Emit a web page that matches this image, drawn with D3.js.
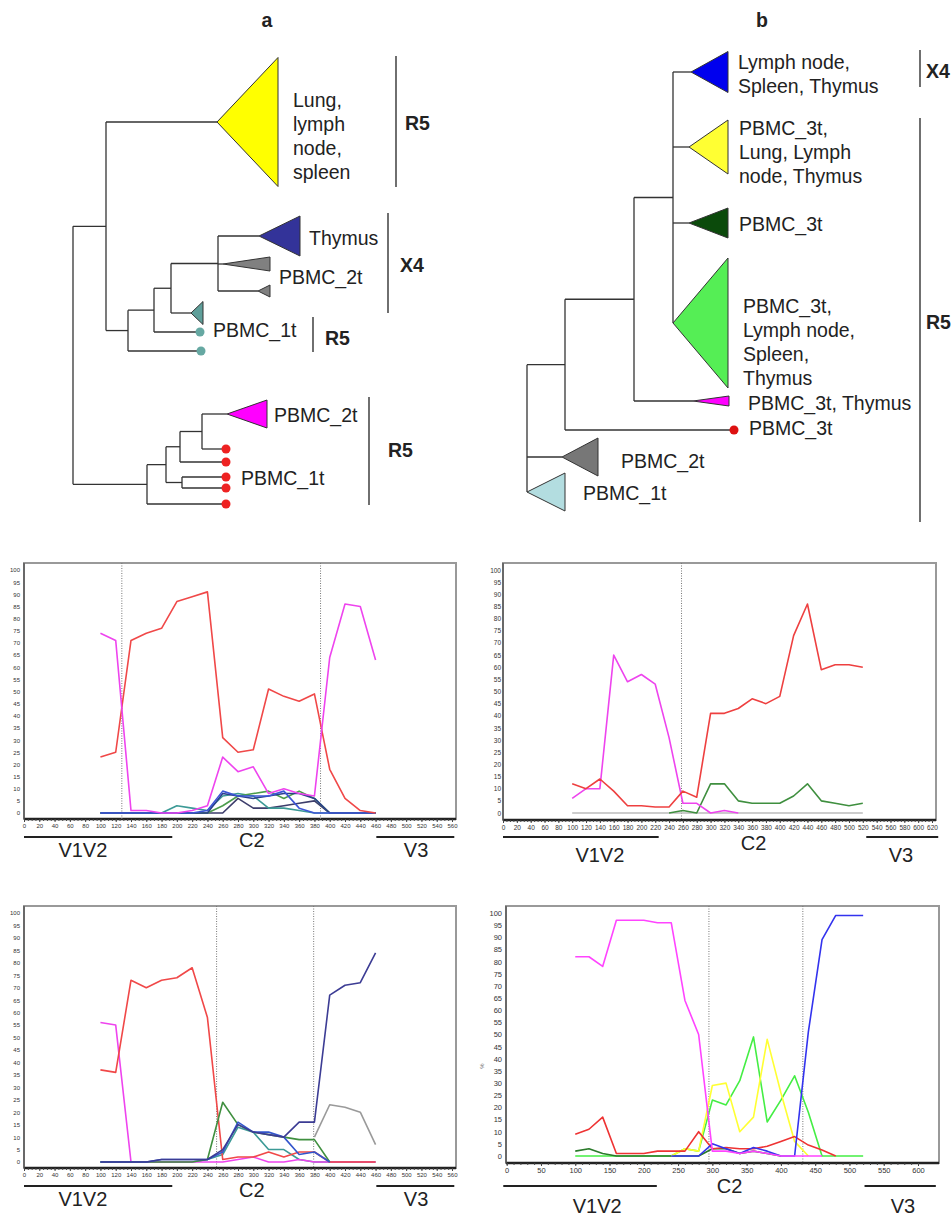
<!DOCTYPE html>
<html lang="en">
<head>
<meta charset="utf-8"/>
<title>Phylogenetic trees and recombination plots</title>
<script src="https://cdn.jsdelivr.net/npm/d3@7"></script>
<style>
body { margin: 0; background: #fff; }
text { font-family: Arial, "Liberation Sans", sans-serif; fill: #222; }
.branch { stroke: #333; stroke-width: 1.3; fill: none; }
.bracket { stroke: #333; stroke-width: 1.4; }
.clade { stroke: #333; stroke-width: 1; }
.treeLabel { font-size: 19.5px; }
.bold { font-weight: bold; }
.frame { fill: none; stroke: #999; stroke-width: 2; }
.baseAxis { stroke: #222; stroke-width: 2.4; }
.axis text { font-size: 6.5px; fill: #333; }
.axis path { display: none; }
.axis line { stroke: #444; }
.divider { stroke: #777; stroke-dasharray: 1, 1.5; stroke-width: 1; }
.series { fill: none; stroke-width: 1.6; stroke-linejoin: round; }
.regionBar { stroke: #222; stroke-width: 2.2; }
.regionText { font-size: 20px; text-anchor: middle; }
</style>
</head>
<body>
<div id="chart"></div>
<script>
// ---------- tree data: [node, parent, distance from root]
var treeA = [
   ["root", "", 0], ["U", "root", 33], ["L", "root", 74],
   ["yellow", "U", 144], ["M", "U", 55],
   ["N", "M", 81], ["tealDot2", "M", 128],
   ["P", "N", 98], ["tealDot1", "N", 127],
   ["Q", "P", 145], ["tealTri", "P", 118],
   ["navyTri", "Q", 186], ["greyTri1", "Q", 150], ["greyTri2", "Q", 185],
   ["L2", "L", 93], ["red5", "L", 153],
   ["L3", "L2", 107], ["L5", "L2", 109],
   ["L4", "L3", 129], ["red2", "L3", 153],
   ["magTri", "L4", 154], ["red1", "L4", 153],
   ["red3", "L5", 153], ["red4", "L5", 153]
];
// collapsed clades: [node, position, half height, depth]
var cladesA = [
   ["yellow", 122, 64.5, 61], ["navyTri", 236, 20, 41], ["greyTri1", 264, 7, 47],
   ["greyTri2", 291, 6, 12], ["tealTri", 313, 11.5, 12], ["magTri", 414, 14, 40]
];
// single sequences: [node, position]
var dotsA = [["tealDot1", 332], ["tealDot2", 351], ["red1", 449], ["red2", 462],
   ["red3", 477], ["red4", 488], ["red5", 504]];

var treeB = [
   ["root", "", 0], ["B", "root", 38], ["greyTri", "root", 35], ["lbTri", "root", 0],
   ["C", "B", 107], ["redDot", "B", 207],
   ["D", "C", 146], ["magTri", "C", 166],
   ["blueTri", "D", 164], ["yellowTri", "D", 162], ["dgTri", "D", 162], ["lgTri", "D", 146]
];
var cladesB = [
   ["blueTri", 72, 20.5, 37], ["yellowTri", 147, 27, 39], ["dgTri", 223, 15, 39],
   ["lgTri", 323, 65, 55], ["magTri", 401, 5, 36], ["greyTri", 457, 19, 36], ["lbTri", 492, 19, 38]
];
var dotsB = [["redDot", 430]];

var cladeColours = {
   yellow: "#ffff00", navyTri: "#333399", greyTri1: "#808080", greyTri2: "#808080",
   tealTri: "#5f9f9a", magTri: "#ff00ff", tealDot1: "#66a8a2", tealDot2: "#66a8a2",
   red1: "#ee2222", red2: "#ee2222", red3: "#ee2222", red4: "#ee2222", red5: "#ee2222",
   blueTri: "#0000ee", yellowTri: "#ffff33", dgTri: "#0b4a0b", lgTri: "#55ee55",
   greyTri: "#777777", lbTri: "#b3dde0", redDot: "#dd1111"
};

// ---------- recombination plots (window position, % support)
var posA = [100, 120, 140, 160, 180, 200, 220, 240, 260, 280, 300, 320, 340, 360, 380, 400, 420, 440, 460];
var posB = [100, 120, 140, 160, 180, 200, 220, 240, 260, 280, 300, 320, 340, 360, 380, 400, 420, 440, 460, 480, 500, 520];

var a1Slate   = [0, 0, 0, 0, 0, 0, 0, 0, 0, 6, 2, 2, 3, 4, 5, 0, 0, 0, 0];
var a1Teal    = [0, 0, 0, 0, 0, 3, 2, 1, 7, 8, 7, 2, 2, 1, 0, 0, 0, 0, 0];
var a1Green   = [0, 0, 0, 0, 0, 0, 0, 0, 3, 7, 8, 9, 6, 9, 6, 0, 0, 0, 0];
var a1Navy    = [0, 0, 0, 0, 0, 0, 0, 0, 8, 7, 6, 7, 8, 8, 6, 0, 0, 0, 0];
var a1Blue    = [0, 0, 0, 0, 0, 0, 0, 1, 9, 7, 7, 7, 9, 2, 0, 0, 0, 0, 0];
var a1Red     = [23, 25, 71, 74, 76, 87, 89, 91, 31, 25, 26, 51, 48, 46, 49, 18, 6, 1, 0];
var a1Magenta = [74, 71, 1, 1, 0, 0, 1, 3, 23, 17, 19, 8, 10, 8, 7, 64, 86, 85, 63];

var b1Grey    = [0, 0, 0, 0, 0, 0, 0, 0, 0, 0, 0, 0, 0, 0, 0, 0, 0, 0, 0, 0, 0, 0];
var b1Green   = [null, null, null, null, null, null, null, 0, 1, 0, 12, 12, 5, 4, 4, 4, 7, 12, 5, 4, 3, 4];
var b1Magenta = [6, 10, 10, 65, 54, 57, 53, 31, 4, 4, 0, 1, 0, null, null, null, null, null, null, null, null, null];
var b1Red     = [12, 10, 14, 9, 3, 3, 2.5, 2.5, 9, 6.5, 41, 41, 43, 47, 45, 48, 73, 86, 59, 61, 61, 60];

var a2Teal    = [0, 0, 0, 0, 0, 0, 0, 1, 3, 14, 12, 5, 5, 1, 0, 0, 0, 0, 0];
var a2Magenta = [56, 55, 0, 0, 0, 0, 0, 0, 0, 1, 2, 0, 0, 1, 0, 0, 0, 0, 0];
var a2Red     = [37, 36, 73, 70, 73, 74, 78, 58, 1, 2, 2, 4, 2, 4, 4, 0, 0, 0, 0];
var a2Grey    = [null, null, null, null, null, null, null, null, null, null, null, null, null, null, 10, 23, 22, 20, 7];
var a2Green   = [0, 0, 0, 0, 0, 0, 0, 1, 24, 15, 12, 11, 10, 9, 9, 0, null, null, null];
var a2Blue    = [0, 0, 0, 0, 1, 1, 1, 1, 4, 16, 12, 12, 10, 3, 4, 0, null, null, null];
var a2Navy    = [0, 0, 0, 0, 1, 1, 1, 1, 5, 15, 12, 11, 10, 16, 16, 67, 71, 72, 84];

var b2Green     = [0, 0, 0, 0, 0, 0, 0, 0, 3, 2, 23, 21, 31, 49, 14, 23, 33, 18, 0, 0, 0, 0];
var b2DarkGreen = [2, 3, 1, 0, 0, 0, 0, 0, 0, 0, 3, 3, 1, 2, 1, 0, null, null, null, null, null, null];
var b2Yellow    = [null, null, null, null, null, null, null, 0, 3, 2, 29, 30, 10, 16, 48, 26, 6, 0, null, null, null, null];
var b2Red       = [9, 11, 16, 1, 1, 1, 2, 2, 2, 10, 3, 3.5, 3, 3, 4, 6, 8, 4.5, 2.5, 0, null, null];
var b2Blue      = [null, null, null, null, null, null, null, 0, 0, 0, 5, 3, 1, 3.5, 2, 0, 0, 51, 89, 99, 99, 99];
var b2Magenta   = [82, 82, 78, 97, 97, 97, 96, 96, 64, 50, 2, 2, 1, 2, 1, 0, 0, 0, 0, null, null, null];

// breakpoints (dotted lines)
var breaksA1 = [128, 388];
var breaksB1 = [258];
var breaksA2 = [252, 379];
var breaksB2 = [295, 432];

// regions: [label, bar start, bar end, label centre]
var regionsA = [["V1V2", 0, 194, 77], ["C2", null, null, 298], ["V3", 461, 563, 513]];
var regionsB1 = [["V1V2", 0, 225, 140], ["C2", null, null, 362], ["V3", 525, 629, 575]];
var regionsB2 = [["V1V2", -5, 219, 132], ["C2", null, null, 325], ["V3", 522, 626, 578]];

var ticks20A = [0, 20, 40, 60, 80, 100, 120, 140, 160, 180, 200, 220, 240, 260, 280, 300, 320, 340, 360, 380, 400, 420, 440, 460, 480, 500, 520, 540, 560];
var ticks20B = [0, 20, 40, 60, 80, 100, 120, 140, 160, 180, 200, 220, 240, 260, 280, 300, 320, 340, 360, 380, 400, 420, 440, 460, 480, 500, 520, 540, 560, 580, 600, 620];
var ticks50 = [0, 50, 100, 150, 200, 250, 300, 350, 400, 450, 500, 550, 600];
var yTicks = [0, 5, 10, 15, 20, 25, 30, 35, 40, 45, 50, 55, 60, 65, 70, 75, 80, 85, 90, 95, 100];

var svg = d3.select("#chart")
            .append("svg")
            .attr("width", 952)
            .attr("height", 1216);

// ---------- trees
function drawTree(rows, clades, dots, xs, ys) {
   var g = svg.append("g");
   var leafY = new Map();
   clades.forEach(function(c){ leafY.set(c[0], c[1]); });
   dots.forEach(function(d){ leafY.set(d[0], d[1]); });

   var root = d3.stratify()
                .id(function(d){ return d[0]; })
                .parentId(function(d){ return d[1] || null; })(rows);

   root.eachAfter(function(n){
      n.px = xs(n.data[2]);
      if (n.children) {
         var e = d3.extent(n.children, function(c){ return c.py; });
         n.lo = e[0]; n.hi = e[1];
         n.py = (e[0] + e[1]) / 2;
      } else {
         n.py = ys(leafY.get(n.id));
      }
   });

   var nodes = root.descendants();
   // vertical connectors
   g.selectAll(".v").data(nodes.filter(function(n){ return n.children; }))
      .enter().append("line")
      .attr("class", "branch")
      .attr("x1", function(n){ return n.px; }).attr("x2", function(n){ return n.px; })
      .attr("y1", function(n){ return n.lo; }).attr("y2", function(n){ return n.hi; });
   // horizontal branches
   g.selectAll(".h").data(nodes.filter(function(n){ return n.parent; }))
      .enter().append("line")
      .attr("class", "branch")
      .attr("x1", function(n){ return n.parent.px; }).attr("x2", function(n){ return n.px; })
      .attr("y1", function(n){ return n.py; }).attr("y2", function(n){ return n.py; });

   var byId = new Map(nodes.map(function(n){ return [n.id, n]; }));
   // collapsed clades as triangles
   g.selectAll(".clade").data(clades)
      .enter().append("path")
      .attr("class", "clade")
      .attr("fill", function(c){ return cladeColours[c[0]]; })
      .attr("d", function(c){
         var n = byId.get(c[0]);
         var bx = xs(n.data[2] + c[3]);
         var top = ys(c[1] - c[2]), bot = ys(c[1] + c[2]);
         return "M" + n.px + "," + n.py + "L" + bx + "," + top + "L" + bx + "," + bot + "Z";
      });
   // single sequences as dots
   g.selectAll(".dot").data(dots)
      .enter().append("circle")
      .attr("r", 4.5)
      .attr("fill", function(d){ return cladeColours[d[0]]; })
      .attr("cx", function(d){ return byId.get(d[0]).px; })
      .attr("cy", function(d){ return byId.get(d[0]).py; });
   return g;
}

function addLabels(labels) {
   labels.forEach(function(l){
      var t = svg.append("text").attr("class", "treeLabel")
                 .attr("x", l[1]).attr("y", l[2]);
      l[0].split("|").forEach(function(line, i){
         t.append("tspan").attr("x", l[1]).attr("dy", i === 0 ? "0.35em" : 24).text(line);
      });
   });
}

function addBrackets(br) {
   br.forEach(function(b){
      svg.append("line").attr("class", "bracket")
         .attr("x1", b[1]).attr("x2", b[1]).attr("y1", b[2]).attr("y2", b[3]);
      svg.append("text").attr("class", "treeLabel bold")
         .attr("x", b[4]).attr("y", b[5]).attr("dy", "0.35em").text(b[0]);
   });
}

var xsA = d3.scaleLinear().domain([0, 230]).range([73, 303]);
var xsB = d3.scaleLinear().domain([0, 230]).range([527, 757]);
var ysT = d3.scaleLinear().domain([0, 520]).range([0, 520]);

drawTree(treeA, cladesA, dotsA, xsA, ysT);
drawTree(treeB, cladesB, dotsB, xsB, ysT);

addLabels([
   ["Lung,|lymph|node,|spleen", 293, 100], ["Thymus", 309, 238], ["PBMC_2t", 279, 277],
   ["PBMC_1t", 213, 330], ["PBMC_2t", 274, 415], ["PBMC_1t", 241, 478],
   ["Lymph node,|Spleen, Thymus", 738, 62], ["PBMC_3t,|Lung, Lymph|node, Thymus", 739, 128],
   ["PBMC_3t", 739, 224], ["PBMC_3t,|Lymph node,|Spleen,|Thymus", 743, 306],
   ["PBMC_3t, Thymus", 748, 403], ["PBMC_3t", 749, 428],
   ["PBMC_2t", 621, 461], ["PBMC_1t", 583, 493]
]);
addBrackets([
   ["R5", 396, 56, 187, 405, 123], ["X4", 388, 213, 313, 400, 265],
   ["R5", 313, 317, 352, 325, 338], ["R5", 369, 397, 505, 388, 450],
   ["X4", 920, 50, 87, 926, 71], ["R5", 920, 118, 522, 926, 322]
]);

svg.append("text").attr("class", "treeLabel bold").attr("x", 267).attr("y", 27)
   .attr("text-anchor", "middle").text("a");
svg.append("text").attr("class", "treeLabel bold").attr("x", 762).attr("y", 27)
   .attr("text-anchor", "middle").text("b");

// ---------- line plots
function drawPlot(p) {
   var g = svg.append("g");
   var x = d3.scaleLinear().domain([0, p.xMax]).range([p.xr0, p.xr1]);
   var y = d3.scaleLinear().domain([0, 100]).range([p.y0, p.y100]);

   g.append("rect").attr("class", "frame")
      .attr("x", p.left).attr("y", p.top)
      .attr("width", p.right - p.left).attr("height", p.bottom - p.top);
   g.append("line").attr("class", "baseAxis")
      .attr("x1", p.left).attr("x2", p.right).attr("y1", p.bottom).attr("y2", p.bottom);
   g.append("line").attr("stroke", "#555").attr("stroke-width", 1.4)
      .attr("x1", p.left).attr("x2", p.left).attr("y1", p.top).attr("y2", p.bottom);

   // minor ticks along the bottom
   g.append("g").attr("class", "axis")
      .attr("transform", "translate(0," + p.bottom + ")")
      .call(d3.axisBottom(x).ticks(p.xMax / p.minor).tickSize(2).tickFormat(""));
   var xa = g.append("g").attr("class", "axis")
      .attr("transform", "translate(0," + p.bottom + ")")
      .call(d3.axisBottom(x).tickValues(p.ticks).tickSize(3).tickPadding(2).tickFormat(d3.format("d")));
   xa.selectAll("text").style("font-size", p.font + "px");

   var ya = g.append("g").attr("class", "axis")
      .attr("transform", "translate(" + p.left + ",0)")
      .call(d3.axisLeft(y).tickValues(yTicks).tickSize(0).tickPadding(p.ypad));
   ya.selectAll("text").style("font-size", p.font + "px");

   g.selectAll(".divider").data(p.breaks)
      .enter().append("line").attr("class", "divider")
      .attr("x1", function(d){ return x(d); }).attr("x2", function(d){ return x(d); })
      .attr("y1", p.top).attr("y2", p.bottom);

   var line = d3.line()
      .defined(function(d){ return d[1] !== null; })
      .x(function(d){ return x(d[0]); })
      .y(function(d){ return y(d[1]); });

   p.series.forEach(function(s){
      g.append("path").attr("class", "series")
         .datum(p.pos.map(function(v, i){ return [v, s[0][i]]; }))
         .attr("stroke", s[1])
         .attr("stroke-width", s[2])
         .attr("d", line);
   });

   p.regions.forEach(function(r){
      if (r[1] !== null) {
         g.append("line").attr("class", "regionBar")
            .attr("x1", x(r[1])).attr("x2", x(r[2])).attr("y1", p.barY).attr("y2", p.barY);
      }
      g.append("text").attr("class", "regionText")
         .attr("x", x(r[3]))
         .attr("y", r[0] === "C2" ? p.c2Y : p.labelY)
         .text(r[0]);
   });
   return g;
}

drawPlot({
   left: 24, right: 456, top: 563, bottom: 819, xr0: 24, xr1: 452, xMax: 560,
   y0: 813, y100: 570, ticks: ticks20A, minor: 5, font: 6, ypad: 4,
   barY: 837, labelY: 857, c2Y: 847, breaks: breaksA1, pos: posA, regions: regionsA,
   series: [[a1Slate, "#3d3d6b", 1.9], [a1Teal, "#3c9a96", 1.8], [a1Green, "#4c9c4c", 1.8],
            [a1Navy, "#2b3f8c", 1.8], [a1Blue, "#3d55d6", 1.8],
            [a1Red, "#f04848", 2.6], [a1Magenta, "#ee44ee", 2.6]]
});

drawPlot({
   left: 503, right: 936, top: 563, bottom: 820, xr0: 503, xr1: 932, xMax: 620,
   y0: 813, y100: 570, ticks: ticks20B, minor: 5, font: 6.5, ypad: 2,
   barY: 837, labelY: 862, c2Y: 850, breaks: breaksB1, pos: posB, regions: regionsB1,
   series: [[b1Grey, "#bbbbbb", 1.6], [b1Green, "#3f8f3f", 2.4], [b1Magenta, "#ee44ee", 2.6],
            [b1Red, "#ee4040", 2.6]]
});

drawPlot({
   left: 24, right: 456, top: 906, bottom: 1168, xr0: 24, xr1: 452, xMax: 560,
   y0: 1162, y100: 913, ticks: ticks20A, minor: 5, font: 6, ypad: 4,
   barY: 1186, labelY: 1206, c2Y: 1197, breaks: breaksA2, pos: posA, regions: regionsA,
   series: [[a2Teal, "#3c9a96", 1.8], [a2Magenta, "#ee44ee", 1.9], [a2Red, "#f04848", 2.2],
            [a2Grey, "#9a9a9a", 2], [a2Green, "#3f8f3f", 2], [a2Blue, "#3355cc", 2.3],
            [a2Navy, "#3c3c94", 2.4]]
});

drawPlot({
   left: 506, right: 939, top: 906, bottom: 1163, xr0: 506.7, xr1: 918, xMax: 600,
   y0: 1156, y100: 913, ticks: ticks50, minor: 10, font: 7.5, ypad: 4,
   barY: 1186, labelY: 1213, c2Y: 1193, breaks: breaksB2, pos: posB, regions: regionsB2,
   series: [[b2Green, "#44ee44", 2.4], [b2DarkGreen, "#2a7a2a", 2.2], [b2Yellow, "#ffff33", 2.4],
            [b2Red, "#ee3333", 2.4], [b2Blue, "#3333ee", 2.4], [b2Magenta, "#ff44ff", 2.4]]
});

svg.append("text").attr("transform", "translate(484,1066) rotate(-90)")
   .attr("text-anchor", "middle").style("font-size", "6px").style("fill", "#666").text("%");
</script>
</body>
</html>
